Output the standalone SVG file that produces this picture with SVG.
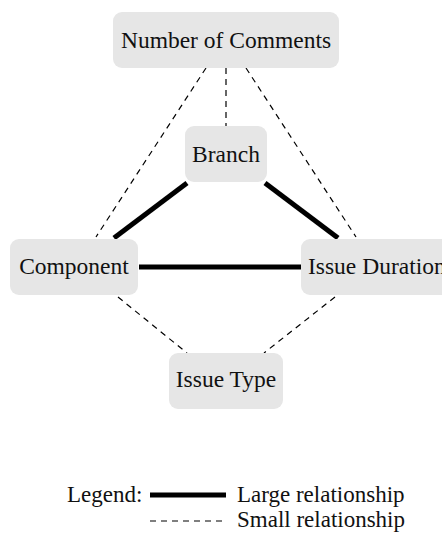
<svg xmlns="http://www.w3.org/2000/svg" width="442" height="542" viewBox="0 0 442 542">
  <style>
    .box { fill: #e6e6e6; }
    .label { font-family: "Liberation Serif", "DejaVu Serif", serif; font-size: 23.5px; fill: #111; }
    .legend-text { font-size: 23px; }
    .large { stroke: #000; stroke-width: 5; fill: none; }
    .small { stroke: #000; stroke-width: 1.2; stroke-dasharray: 6 5; fill: none; }
  </style>
  <rect width="442" height="542" fill="#fff"/>

  <!-- relationships between the variables -->
  <g id="connectors">
    <line class="small" x1="206" y1="68" x2="96" y2="237"/>
    <line class="small" x1="226" y1="68" x2="226" y2="126"/>
    <line class="small" x1="246" y1="68" x2="356" y2="237"/>
    <line class="large" x1="187" y1="183" x2="114" y2="238"/>
    <line class="large" x1="265" y1="183" x2="338" y2="238"/>
    <line class="large" x1="139" y1="267" x2="301" y2="267"/>
    <line class="small" x1="118" y1="297" x2="187" y2="353"/>
    <line class="small" x1="335" y1="297" x2="264" y2="353"/>
  </g>

  <g id="number-of-comments">
    <rect class="box" x="113" y="12" width="226" height="56" rx="9"/>
    <text class="label" x="226" y="48" text-anchor="middle">Number of Comments</text>
  </g>
  <g id="branch">
    <rect class="box" x="185" y="126" width="82" height="56" rx="9"/>
    <text class="label" x="226" y="162" text-anchor="middle">Branch</text>
  </g>
  <g id="component">
    <rect class="box" x="10" y="239" width="128" height="56" rx="9"/>
    <text class="label" x="74" y="274" text-anchor="middle">Component</text>
  </g>
  <g id="issue-duration">
    <rect class="box" x="301" y="239" width="160" height="56" rx="9"/>
    <text class="label" x="308" y="274" font-size="21.5">Issue Duration</text>
  </g>
  <g id="issue-type">
    <rect class="box" x="169" y="353" width="114" height="56" rx="9"/>
    <text class="label" x="226" y="387" text-anchor="middle">Issue Type</text>
  </g>

  <!-- legend -->
  <g id="legend">
    <text class="label legend-text" x="67" y="502">Legend:</text>
    <line class="large" x1="150" y1="495" x2="226" y2="495"/>
    <text class="label legend-text" x="237" y="502">Large relationship</text>
    <line class="small" x1="150" y1="521" x2="226" y2="521" stroke-dasharray="7 10.25"/>
    <text class="label legend-text" x="237" y="527">Small relationship</text>
  </g>
</svg>
